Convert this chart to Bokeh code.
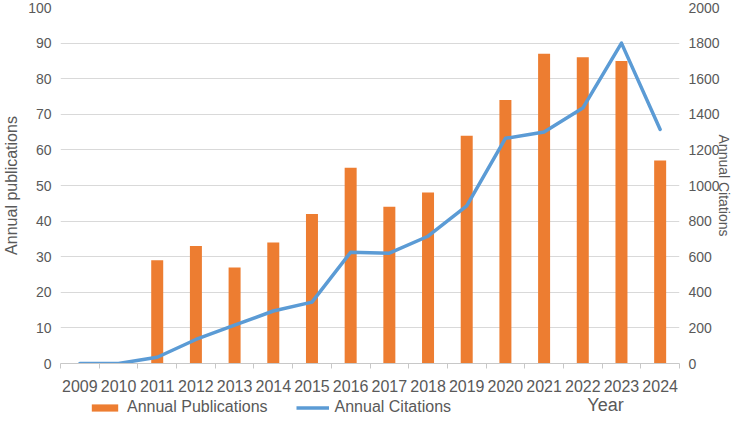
from bokeh.plotting import figure
from bokeh.layouts import column
from bokeh.models import (Range1d, LinearAxis, FixedTicker, Label, Legend, LegendItem,
                          ColumnDataSource, Grid)
from bokeh.embed import file_html
from bokeh.resources import INLINE

years = ["2009", "2010", "2011", "2012", "2013", "2014", "2015", "2016",
         "2017", "2018", "2019", "2020", "2021", "2022", "2023", "2024"]
publications = [0, 0, 29, 33, 27, 34, 42, 55, 44, 48, 64, 74, 87, 86, 85, 57]
citations = [0, 0, 35, 135, 215, 295, 345, 625, 620, 715, 885, 1265, 1300, 1435, 1800, 1315]
pub_ticks = list(range(0, 101, 10))
cit_ticks = list(range(0, 2001, 200))

FONT = "Liberation Sans"
TXT = "#595959"
GRID = "#d9d9d9"
ORANGE = "#ED7D31"
BLUE = "#5B9BD5"

idx = list(range(len(years)))
src = ColumnDataSource(dict(x=idx, pub=publications, cit=citations))

W = 734
H1 = 394
H2 = 22

p = figure(width=W, height=H1, output_backend="svg", toolbar_location=None,
           x_range=Range1d(-0.5, len(years) - 0.5), y_range=Range1d(0, 100),
           min_border_left=60, min_border_right=53, min_border_top=7, min_border_bottom=30,
           x_axis_type=None, y_axis_type=None)
p.outline_line_color = None
p.extra_y_ranges = {"cit": Range1d(0, 2000)}

# x axis
xaxis = LinearAxis(ticker=FixedTicker(ticks=idx, minor_ticks=[i - 0.5 for i in range(len(years) + 1)]))
xaxis.major_label_overrides = {i: y for i, y in zip(idx, years)}
xaxis.major_tick_line_color = None
xaxis.major_tick_out = 0
xaxis.major_tick_in = 0
xaxis.minor_tick_line_color = "#c8c8c8"
xaxis.minor_tick_out = 5
xaxis.minor_tick_in = 0
xaxis.axis_line_color = "#c8c8c8"
xaxis.major_label_text_font = FONT
xaxis.major_label_text_font_size = "16px"
xaxis.major_label_text_color = TXT
xaxis.major_label_standoff = 11
p.add_layout(xaxis, "below")

def style_y(ax, label, size, standoff):
    ax.axis_line_color = None
    ax.major_tick_line_color = None
    ax.minor_tick_line_color = None
    ax.major_tick_out = 0
    ax.major_tick_in = 0
    ax.major_label_standoff = 9
    ax.major_label_text_font = FONT
    ax.major_label_text_font_size = "14px"
    ax.major_label_text_color = TXT
    ax.axis_label = label
    ax.axis_label_text_font = FONT
    ax.axis_label_text_font_size = size
    ax.axis_label_text_font_style = "normal"
    ax.axis_label_text_color = TXT
    ax.axis_label_standoff = standoff

yaxis = LinearAxis(ticker=FixedTicker(ticks=pub_ticks))
style_y(yaxis, "Annual publications", "16px", 5)
p.add_layout(yaxis, "left")

raxis = LinearAxis(y_range_name="cit", ticker=FixedTicker(ticks=cit_ticks))
style_y(raxis, "Annual Citations", "14px", -7)
p.add_layout(raxis, "right")

p.add_layout(Grid(dimension=1, ticker=FixedTicker(ticks=pub_ticks), grid_line_color=GRID))

p.vbar(x="x", top="pub", width=0.31, source=src, fill_color=ORANGE, line_color=None)
p.line(x="x", y="cit", source=src, y_range_name="cit", line_color=BLUE,
       line_width=3.5, line_join="round", line_cap="round")

# bottom strip (its frame is aligned with the chart's frame): legend and "Year"
p2 = figure(width=W, height=H2, output_backend="svg", toolbar_location=None,
            x_range=Range1d(0, 1), y_range=Range1d(0, 1),
            min_border=0, min_border_left=0, min_border_right=0, min_border_top=0, min_border_bottom=0,
            x_axis_type=None, y_axis_type=None)
p2.outline_line_color = None
p2.xgrid.visible = False
p2.ygrid.visible = False
# legend proxies (kept outside the visible range)
proxy = ColumnDataSource(dict(x=[-5, -6], top=[0, 0], y=[-5, -5]))
r_bar = p2.vbar(x="x", top="top", width=0.1, source=proxy, fill_color=ORANGE, line_color=None)
r_line = p2.line(x="x", y="y", source=proxy, line_color=BLUE, line_width=3.5)

legend = Legend(items=[LegendItem(label="Annual Publications", renderers=[r_bar]),
                       LegendItem(label="Annual Citations", renderers=[r_line])],
                location=(28, 0), orientation="horizontal",
                glyph_width=33, glyph_height=9, label_height=18, label_standoff=6,
                spacing=28, padding=0, margin=0,
                label_text_font=FONT, label_text_font_size="16px", label_text_color=TXT,
                border_line_color=None, background_fill_alpha=0)
p2.add_layout(legend, "center")
p2.add_layout(Label(x=545, y=12, x_units="screen", y_units="screen", text="Year",
                    text_align="center", text_baseline="middle",
                    text_font=FONT, text_font_size="18px", text_color=TXT))

layout = column(p, p2, spacing=0)
open("out.html", "w").write(file_html(layout, INLINE))
